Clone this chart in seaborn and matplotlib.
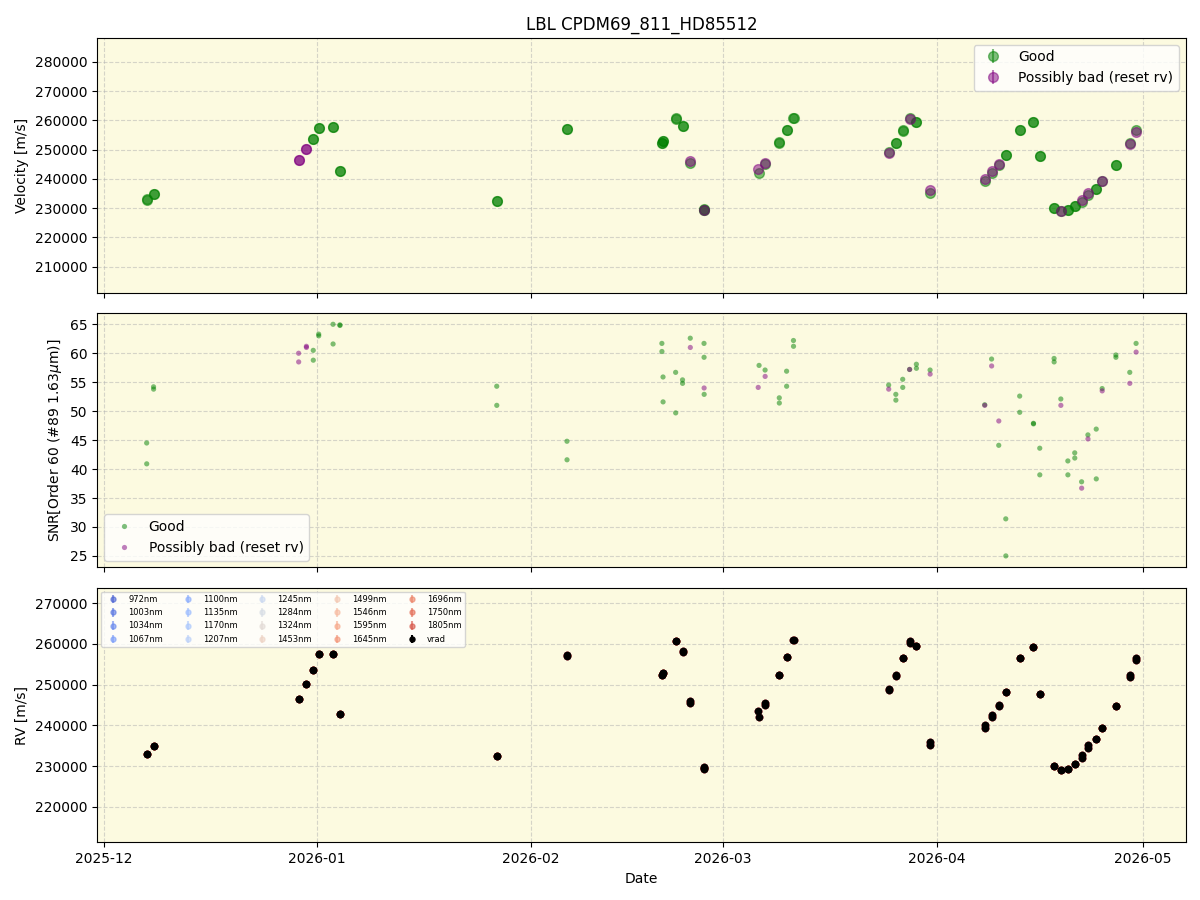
import matplotlib
matplotlib.use('Agg')
import matplotlib.pyplot as plt
import numpy as np
import pandas as pd
import seaborn as sns

# observation times, velocities, SNR and quality flag (G = good, B = possibly bad)
obs_time = ['2025-12-07 05:00', '2025-12-07 05:10', '2025-12-08 05:00', '2025-12-08 05:10',
            '2025-12-29 07:00', '2025-12-29 07:10', '2025-12-30 10:00', '2025-12-30 10:10',
            '2025-12-31 10:00', '2025-12-31 10:10', '2026-01-01 05:00', '2026-01-01 05:10',
            '2026-01-03 07:00', '2026-01-03 07:10', '2026-01-04 07:00', '2026-01-04 07:10',
            '2026-01-27 02:00', '2026-01-27 02:10', '2026-02-06 07:00', '2026-02-06 07:10',
            '2026-02-20 02:00', '2026-02-20 02:10', '2026-02-20 06:00', '2026-02-20 06:10',
            '2026-02-22 02:00', '2026-02-22 02:10', '2026-02-23 02:00', '2026-02-23 02:10',
            '2026-02-24 05:00', '2026-02-24 05:10', '2026-02-26 05:00', '2026-02-26 05:10',
            '2026-02-26 05:20', '2026-02-26 05:30', '2026-03-06 05:00', '2026-03-06 02:00',
            '2026-03-07 02:00', '2026-03-07 02:10', '2026-03-09 03:30', '2026-03-09 03:40',
            '2026-03-10 05:00', '2026-03-10 05:10', '2026-03-11 05:00', '2026-03-11 05:10',
            '2026-03-25 01:00', '2026-03-25 01:10', '2026-03-26 02:00', '2026-03-26 02:10',
            '2026-03-27 02:00', '2026-03-27 02:10', '2026-03-28 02:00', '2026-03-28 02:10',
            '2026-03-29 01:40', '2026-03-29 01:50', '2026-03-31 01:30', '2026-03-31 01:40',
            '2026-04-08 00:00', '2026-04-08 00:10', '2026-04-09 00:00', '2026-04-09 00:10',
            '2026-04-10 01:00', '2026-04-10 01:10', '2026-04-11 01:30', '2026-04-11 01:40',
            '2026-04-13 02:00', '2026-04-13 02:10', '2026-04-15 02:00', '2026-04-15 02:10',
            '2026-04-16 00:00', '2026-04-16 00:10', '2026-04-18 02:00', '2026-04-18 02:10',
            '2026-04-19 01:30', '2026-04-19 01:40', '2026-04-20 02:00', '2026-04-20 02:10',
            '2026-04-21 02:00', '2026-04-21 02:10', '2026-04-22 02:00', '2026-04-22 02:10',
            '2026-04-23 00:00', '2026-04-23 00:10', '2026-04-24 05:00', '2026-04-24 05:10',
            '2026-04-25 01:40', '2026-04-25 01:50', '2026-04-27 01:30', '2026-04-27 01:40',
            '2026-04-29 02:00', '2026-04-29 02:10', '2026-04-30 00:00', '2026-04-30 00:10']

obs_rv = [232900, 232950, 234950, 234900,
          246550, 246500, 250100, 250050,
          253600, 253550, 257500, 257450,
          257600, 257550, 242800, 242750,
          232550, 232500, 257150, 257100,
          252300, 252250, 252900, 252850,
          260650, 260600, 258150, 258100,
          245400, 246000, 229500, 229700,
          229200, 229500, 242000, 243450,
          245100, 245450, 252450, 252400,
          256800, 256750, 260900, 260850,
          249050, 248800, 252250, 252200,
          256550, 256500, 260700, 260300,
          259500, 259450, 235150, 236050,
          239250, 240050, 242000, 242550,
          244650, 244900, 248250, 248200,
          256650, 256600, 259300, 259250,
          247800, 247750, 230050, 230000,
          229100, 229000, 229250, 229200,
          230600, 230550, 232100, 232650,
          234400, 235150, 236650, 236600,
          239300, 239250, 244700, 244650,
          252400, 251850, 256550, 256000]

obs_snr = [44.5, 40.9, 54.2, 53.8,
           60.0, 58.5, 61.2, 61.0,
           60.5, 58.8, 63.3, 63.0,
           65.0, 61.6, 64.9, 64.8,
           54.3, 51.0, 44.8, 41.6,
           61.7, 60.3, 55.9, 51.6,
           56.7, 49.7, 55.4, 54.8,
           62.6, 61.0, 61.7, 59.3,
           54.0, 52.9, 57.9, 54.1,
           57.1, 56.0, 52.3, 51.4,
           56.9, 54.3, 62.2, 61.2,
           54.5, 53.8, 52.9, 51.9,
           55.5, 54.1, 57.2, 57.2,
           58.1, 57.4, 57.1, 56.4,
           51.1, 51.0, 59.0, 57.8,
           44.1, 48.3, 31.4, 25.0,
           52.6, 49.8, 47.9, 47.8,
           43.6, 39.0, 59.1, 58.5,
           52.1, 51.0, 41.4, 39.0,
           42.8, 41.9, 37.8, 36.7,
           45.9, 45.2, 46.9, 38.3,
           53.9, 53.5, 59.7, 59.3,
           56.7, 54.8, 61.7, 60.2]

obs_flag = ['G', 'G', 'G', 'G',
            'B', 'B', 'B', 'B',
            'G', 'G', 'G', 'G',
            'G', 'G', 'G', 'G',
            'G', 'G', 'G', 'G',
            'G', 'G', 'G', 'G',
            'G', 'G', 'G', 'G',
            'G', 'B', 'G', 'G',
            'B', 'G', 'G', 'B',
            'G', 'B', 'G', 'G',
            'G', 'G', 'G', 'G',
            'G', 'B', 'G', 'G',
            'G', 'G', 'G', 'B',
            'G', 'G', 'G', 'B',
            'G', 'B', 'G', 'B',
            'G', 'B', 'G', 'G',
            'G', 'G', 'G', 'G',
            'G', 'G', 'G', 'G',
            'G', 'B', 'G', 'G',
            'G', 'G', 'G', 'B',
            'G', 'B', 'G', 'G',
            'G', 'B', 'G', 'G',
            'G', 'B', 'G', 'B']

wavelengths = [972, 1003, 1034, 1067, 1100, 1135, 1170, 1207, 1245, 1284,
               1324, 1453, 1499, 1546, 1595, 1645, 1696, 1750, 1805]

#build a dataframe
df = pd.DataFrame({'time': pd.to_datetime(obs_time), 'rv': obs_rv,
                   'snr': obs_snr, 'flag': obs_flag})
df['label'] = df['flag'].map({'G': 'Good', 'B': 'Possibly bad (reset rv)'})
good = df[df['flag'] == 'G']
bad = df[df['flag'] == 'B']

fig, (ax1, ax2, ax3) = plt.subplots(3, 1, figsize=(12, 9), sharex=True)
fig.subplots_adjust(left=0.081, right=0.988, top=0.958, bottom=0.064, hspace=0.079)

bg = '#fcfae0'
for ax in (ax1, ax2, ax3):
    ax.set_facecolor(bg)
    ax.grid(True, linestyle='--', color='#b0b0b0', alpha=0.5)
    ax.set_axisbelow(True)

#top panel - velocity
ax1.errorbar(good['time'], good['rv'], yerr=np.zeros(len(good)), fmt='o', color='green',
             alpha=0.5, ms=7, label='Good')
ax1.errorbar(bad['time'], bad['rv'], yerr=np.zeros(len(bad)), fmt='o', color='purple',
             alpha=0.5, ms=7, label='Possibly bad (reset rv)')
ax1.set_ylim(201100, 288200)
ax1.set_ylabel('Velocity [m/s]')
ax1.legend(loc='upper right')
ax1.set_title('LBL CPDM69_811_HD85512')

#middle panel - SNR
sns.scatterplot(data=df, x='time', y='snr', hue='label',
                hue_order=['Good', 'Possibly bad (reset rv)'],
                palette={'Good': 'green', 'Possibly bad (reset rv)': 'purple'},
                alpha=0.5, s=14, linewidth=0, ax=ax2)
ax2.set_ylabel('SNR[Order 60 (#89 1.63$\\mu$m)]')
ax2.set_xlabel('')
ax2.legend(loc='lower left')

#bottom panel - RV per wavelength
colors = plt.cm.coolwarm(np.linspace(0.05, 0.9, len(wavelengths)))
for w, c in zip(wavelengths, colors):
    ax3.errorbar(df['time'], df['rv'], yerr=np.zeros(len(df)), fmt='o', color=c,
                 alpha=0.6, ms=4.5, label='{}nm'.format(w))
ax3.errorbar(df['time'], df['rv'], yerr=np.zeros(len(df)), fmt='o', color='black',
             ms=4.5, label='vrad')
ax3.set_ylim(211300, 273800)
ax3.set_ylabel('RV [m/s]')
ax3.set_xlabel('Date')
ax3.legend(loc='upper left', ncol=5, fontsize=6, markerscale=0.8)

plt.savefig('out.png', dpi=100)
